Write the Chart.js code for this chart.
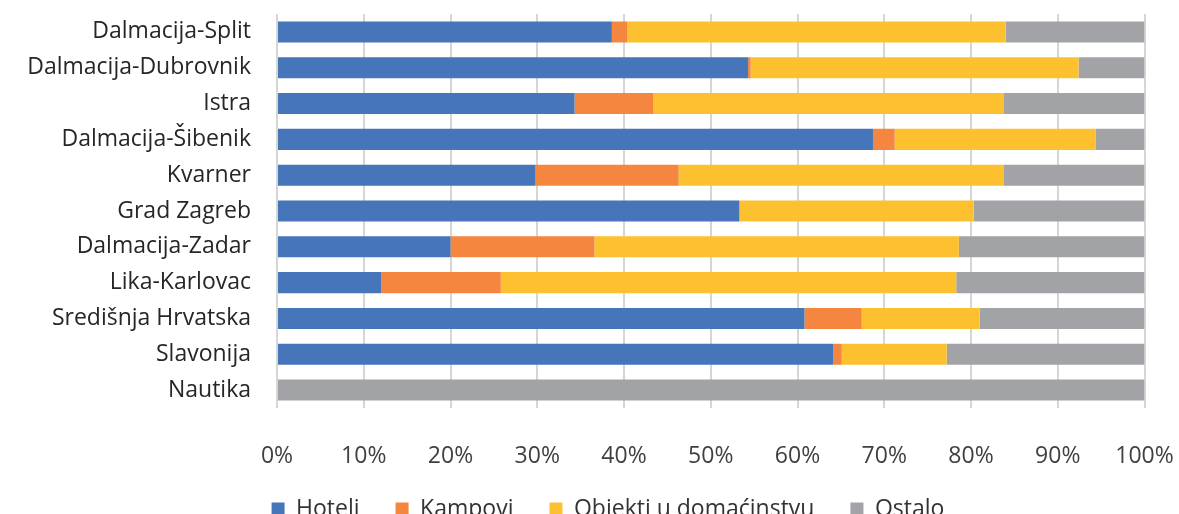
<!DOCTYPE html>
<html>
<head>
<meta charset="utf-8">
<script src="https://cdn.jsdelivr.net/npm/chart.js@4.4.1/dist/chart.umd.min.js"></script>
<style>
  html, body { margin: 0; padding: 0; overflow: hidden; background: #fff; }
  #wrap { width: 1179px; height: 547px; }
</style>
</head>
<body>
<div id="wrap"><canvas id="chart"></canvas></div>
<script>
// Data (share in %)
const regions = ['Dalmacija-Split', 'Dalmacija-Dubrovnik', 'Istra', 'Dalmacija-Šibenik', 'Kvarner',
  'Grad Zagreb', 'Dalmacija-Zadar', 'Lika-Karlovac', 'Središnja Hrvatska', 'Slavonija', 'Nautika'];
const hoteli   = [38.6, 54.3, 34.3, 68.7, 29.8, 53.3, 20.0, 12.0, 60.8, 64.1, 0];
const kampovi  = [1.8, 0.3, 9.1, 2.5, 16.5, 0, 16.6, 13.8, 6.6, 1.0, 0];
const objekti  = [43.6, 37.8, 40.4, 23.2, 37.5, 27.0, 42.0, 52.5, 13.6, 12.1, 0];
const ostalo   = [16.0, 7.6, 16.2, 5.6, 16.2, 19.7, 21.4, 21.7, 19.0, 22.8, 100];
const xTicks   = [0, 10, 20, 30, 40, 50, 60, 70, 80, 90, 100];

const font = "'Open Sans', sans-serif";

function series(label, data, color) {
  return {
    label: label,
    data: data,
    backgroundColor: color,
    borderWidth: 0,
    barPercentage: 0.587,
    categoryPercentage: 1
  };
}

// move the legend a bit: it sits right of centre and close under the tick labels
const legendShift = {
  id: 'legendShift',
  afterLayout(chart) {
    const lg = chart.legend;
    lg.left += 37;
    lg.top -= 16.5;
    lg.bottom -= 16.5;
  }
};

new Chart(document.querySelector('#chart'), {
  type: 'bar',
  data: {
    labels: regions,
    datasets: [
      series('Hoteli', hoteli, '#4675BA'),
      series('Kampovi', kampovi, '#F4863F'),
      series('Objekti u domaćinstvu', objekti, '#FDC02F'),
      series('Ostalo', ostalo, '#A2A3A7')
    ]
  },
  plugins: [legendShift],
  options: {
    indexAxis: 'y',
    responsive: true,
    maintainAspectRatio: false,
    animation: false,
    layout: { padding: { left: 0, top: 14, right: 0, bottom: 0 } },
    plugins: {
      tooltip: { enabled: false },
      legend: {
        position: 'bottom',
        labels: {
          boxWidth: 13,
          boxHeight: 13,
          padding: 36,
          color: '#333',
          font: { family: font, size: 23 }
        }
      }
    },
    scales: {
      x: {
        stacked: true,
        min: 0,
        max: 100,
        afterBuildTicks: (axis) => { axis.ticks = xTicks.map((v) => ({ value: v })); },
        afterFit: (axis) => {
          axis.height = 70;
          axis.paddingLeft = 0;
          axis.paddingRight = 34.5;
        },
        grid: { color: '#d6d6d6', lineWidth: 2, drawTicks: false },
        border: { display: false },
        ticks: {
          padding: 35,
          color: '#404040',
          font: { family: font, size: 23 },
          callback: (v) => v + '%'
        }
      },
      y: {
        stacked: true,
        afterFit: (axis) => {
          axis.width = 277;
          axis.paddingTop = 0;
          axis.paddingBottom = 0;
        },
        grid: { display: false, drawTicks: false },
        border: { display: false },
        ticks: {
          padding: 26,
          color: '#262626',
          font: { family: font, size: 23 }
        }
      }
    }
  }
});
</script>
</body>
</html>
